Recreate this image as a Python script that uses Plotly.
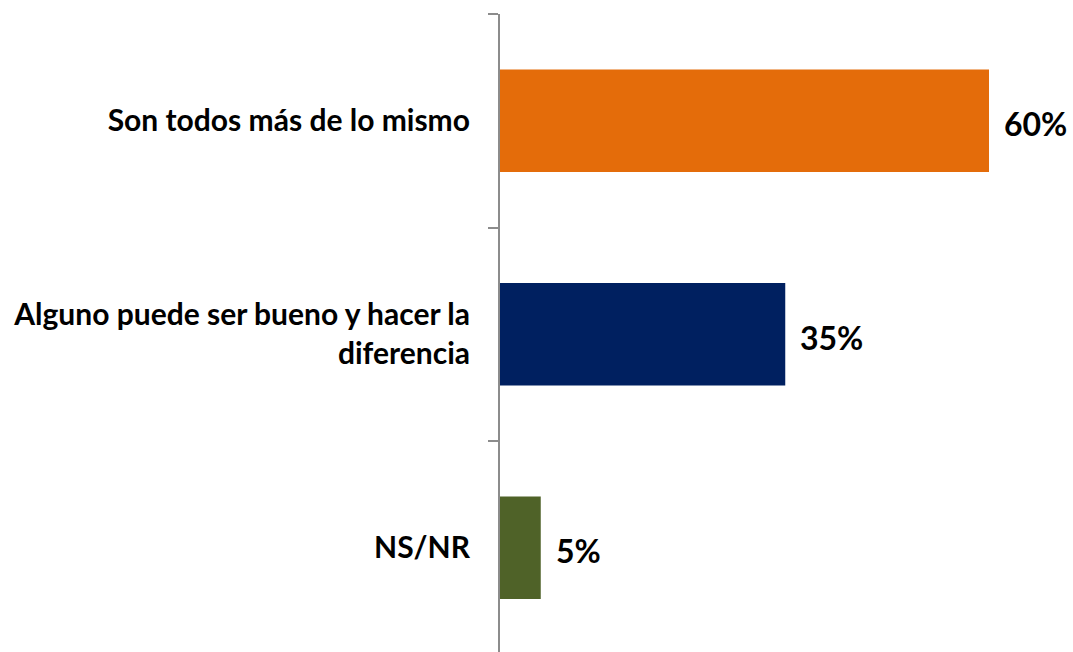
import plotly.graph_objects as go

categories = ["Son todos más de lo mismo",
              "Alguno puede ser bueno y hacer la<br>diferencia",
              "NS/NR"]
values = [60, 35, 5]
colors = ["#E46C0A", "#002060", "#4F6228"]
value_labels = [f"{v}%" for v in values]

fig = go.Figure()
fig.add_trace(go.Bar(
    x=values, y=categories, orientation="h",
    marker=dict(color=colors, line=dict(width=0)),
    width=0.48, hoverinfo="skip",
))

for v, c, t in zip(values, categories, value_labels):
    fig.add_annotation(x=v, y=c, text=t, showarrow=False, xanchor="left",
                       xshift=13, yshift=-3,
                       font=dict(family="Lato", size=32, color="#000000", weight="bold"))

fig.update_layout(
    width=1073, height=652,
    margin=dict(l=500, r=0, t=14, b=0, autoexpand=False),
    paper_bgcolor="white", plot_bgcolor="white",
    showlegend=False,
    xaxis=dict(range=[0, 60 * 573 / 489], visible=False, showgrid=False,
               zeroline=False, automargin=False),
    yaxis=dict(
        range=[2.488, -0.5], type="category", automargin=False,
        showline=True, linecolor="#8C8C8C", linewidth=2,
        ticks="outside", ticklen=10, tickcolor="#8C8C8C", tickwidth=2,
        tickson="boundaries", showgrid=False,
        tickfont=dict(family="Lato", size=30, color="#000000", weight="bold"),
        ticklabelstandoff=22,
    ),
)

fig.write_html("out.html", config={"displayModeBar": False},
               post_script="document.body.style.margin='0';document.body.style.overflow='hidden';")
